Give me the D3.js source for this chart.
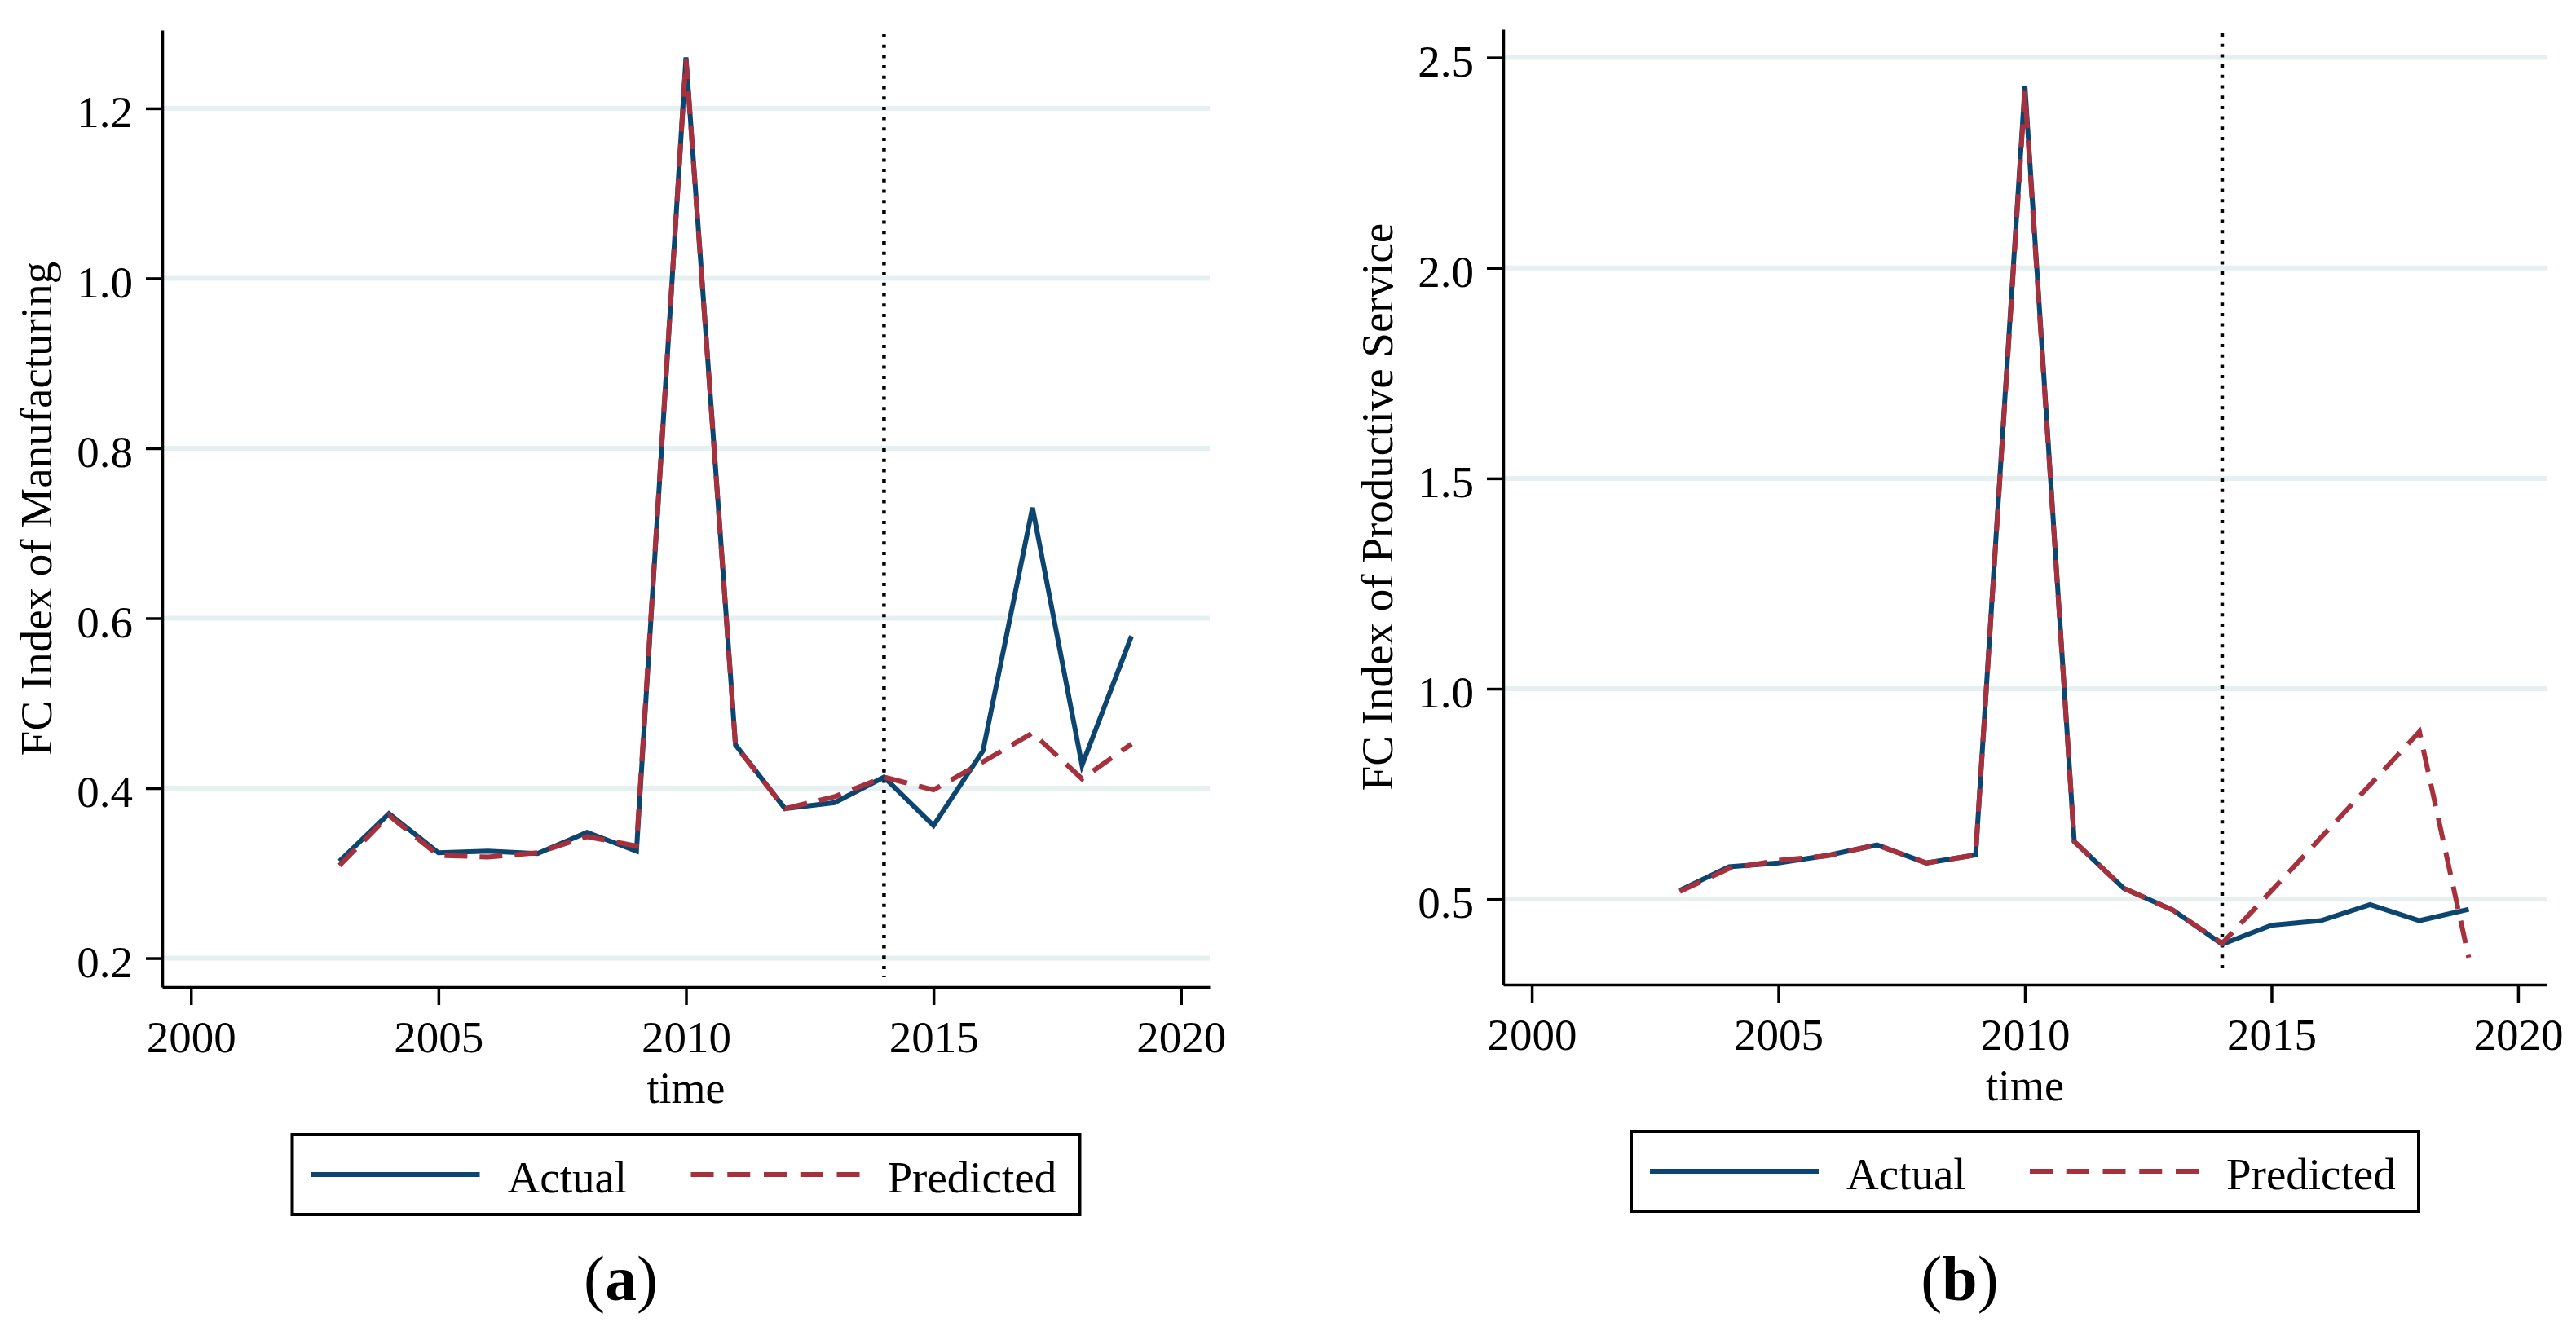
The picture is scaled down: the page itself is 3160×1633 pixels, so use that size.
<!DOCTYPE html>
<html>
<head>
<meta charset="utf-8">
<script src="https://cdn.jsdelivr.net/npm/d3@7"></script>
<style>
  body { margin: 0; background: #fff; }
  text { font-family: "Liberation Serif", "Times New Roman", serif; fill: #000; }
</style>
</head>
<body>
<div id="chart"></div>
<script>
const years = [2003, 2004, 2005, 2006, 2007, 2008, 2009, 2010, 2011, 2012, 2013, 2014, 2015, 2016, 2017, 2018, 2019];

const mfgActual    = [0.314, 0.370, 0.324, 0.326, 0.323, 0.348, 0.326, 1.260, 0.451, 0.376, 0.383, 0.413, 0.356, 0.444, 0.730, 0.427, 0.579];
const mfgPredicted = [0.309, 0.368, 0.321, 0.319, 0.324, 0.343, 0.332, 1.258, 0.450, 0.376, 0.390, 0.413, 0.398, 0.431, 0.465, 0.411, 0.452];

const svcActual    = [0.521, 0.577, 0.586, 0.604, 0.629, 0.586, 0.605, 2.432, 0.637, 0.526, 0.474, 0.393, 0.438, 0.449, 0.487, 0.449, 0.476];
const svcPredicted = [0.518, 0.573, 0.592, 0.603, 0.629, 0.586, 0.605, 2.420, 0.637, 0.526, 0.474, 0.395, 0.520, 0.646, 0.772, 0.898, 0.361];

const xTicks = [2000, 2005, 2010, 2015, 2020];
const mfgTicks = [0.2, 0.4, 0.6, 0.8, 1.0, 1.2];
const svcTicks = [0.5, 1.0, 1.5, 2.0, 2.5];
const cutoffYear = 2014;
const seriesNames = ['Actual', 'Predicted'];

const width = 3160;
const height = 1633;
const blue = '#0d4571';
const red = '#a6313d';
const grid = '#e6f0f0';

const svg = d3.select('#chart')
    .append('svg')
    .attr('width', width)
    .attr('height', height);

svg.append('rect').attr('width', width).attr('height', height).attr('fill', '#fff');

const panels = [
    { left: 199, right: 1484, top: 37, bottom: 1211, yDomain: [0.166, 1.292], yTicks: mfgTicks,
      actual: mfgActual, predicted: mfgPredicted, title: 'FC Index of Manufacturing',
      legendTop: 1392, tag: 'a' },
    { left: 1844, right: 3124, top: 36, bottom: 1208, yDomain: [0.297, 2.567], yTicks: svcTicks,
      actual: svcActual, predicted: svcPredicted, title: 'FC Index of Productive Service',
      legendTop: 1388, tag: 'b' }
];

panels.forEach(drawPanel);

function drawPanel(p) {
    const x = d3.scaleLinear().domain([1999.42, 2020.58]).range([p.left, p.right]);
    const y = d3.scaleLinear().domain(p.yDomain).range([p.bottom, p.top]);
    const g = svg.append('g');

    // grid lines
    g.selectAll('.grid')
        .data(p.yTicks)
        .enter().append('line')
        .attr('x1', p.left)
        .attr('x2', p.right)
        .attr('y1', d => y(d))
        .attr('y2', d => y(d))
        .attr('stroke', grid)
        .attr('stroke-width', 6);

    // cutoff
    g.append('line')
        .attr('x1', x(cutoffYear))
        .attr('x2', x(cutoffYear))
        .attr('y1', p.top + 5)
        .attr('y2', p.bottom - 12)
        .attr('stroke', '#000')
        .attr('stroke-width', 4.5)
        .attr('stroke-dasharray', '4 8.7');

    const line = d3.line()
        .x((d, i) => x(years[i]))
        .y(d => y(d));

    g.append('path')
        .attr('d', line(p.actual))
        .attr('fill', 'none')
        .attr('stroke', blue)
        .attr('stroke-width', 6)
        .attr('stroke-linejoin', 'miter');

    g.append('path')
        .attr('d', line(p.predicted))
        .attr('fill', 'none')
        .attr('stroke', red)
        .attr('stroke-width', 6)
        .attr('stroke-dasharray', '28 15');

    const yAxis = g.append('g')
        .attr('transform', `translate(${p.left},0)`)
        .call(d3.axisLeft(y).tickValues(p.yTicks).tickFormat(d3.format('.1f')).tickSize(20).tickSizeOuter(0));

    const xAxis = g.append('g')
        .attr('transform', `translate(0,${p.bottom})`)
        .call(d3.axisBottom(x).tickValues(xTicks).tickFormat(d3.format('d')).tickSize(22).tickSizeOuter(0));

    [yAxis, xAxis].forEach(a => {
        a.select('.domain').attr('stroke', '#000').attr('stroke-width', 3.5);
        a.selectAll('.tick line').attr('stroke', '#000').attr('stroke-width', 3.5);
        a.selectAll('.tick text').attr('font-size', 55).attr('fill', '#000');
    });
    yAxis.selectAll('.tick text').attr('x', -36).attr('dy', '0.41em');
    xAxis.selectAll('.tick text').attr('y', 80).attr('dy', 0);

    const midX = (p.left + p.right) / 2;
    const midY = (p.top + p.bottom) / 2;

    g.append('text')
        .attr('x', midX)
        .attr('y', p.bottom + 142)
        .attr('text-anchor', 'middle')
        .attr('font-size', 54)
        .text('time');

    g.append('text')
        .attr('transform', `translate(${p.left - 136},${midY}) rotate(-90)`)
        .attr('text-anchor', 'middle')
        .attr('font-size', 55)
        .text(p.title);

    // legend
    const boxW = 966;
    const boxH = 98;
    const lg = g.append('g').attr('transform', `translate(${midX - boxW / 2},${p.legendTop})`);
    lg.append('rect')
        .attr('width', boxW)
        .attr('height', boxH)
        .attr('fill', '#fff')
        .attr('stroke', '#000')
        .attr('stroke-width', 4);

    const items = lg.selectAll('.item')
        .data(seriesNames)
        .enter().append('g')
        .attr('transform', (d, i) => `translate(${23 + i * 466},0)`);

    items.append('line')
        .attr('x1', 0)
        .attr('x2', 207)
        .attr('y1', boxH / 2)
        .attr('y2', boxH / 2)
        .attr('stroke', (d, i) => i === 0 ? blue : red)
        .attr('stroke-width', 6)
        .attr('stroke-dasharray', (d, i) => i === 0 ? null : '28 16.75');

    items.append('text')
        .attr('x', 241)
        .attr('y', 71)
        .attr('font-size', 55)
        .text(d => d);

    // panel tag
    const tag = g.append('text')
        .attr('x', midX - 80)
        .attr('y', 1595)
        .attr('text-anchor', 'middle')
        .attr('font-size', 78);
    tag.append('tspan').text('(');
    tag.append('tspan').attr('font-weight', 'bold').text(p.tag);
    tag.append('tspan').text(')');
}
</script>
</body>
</html>
